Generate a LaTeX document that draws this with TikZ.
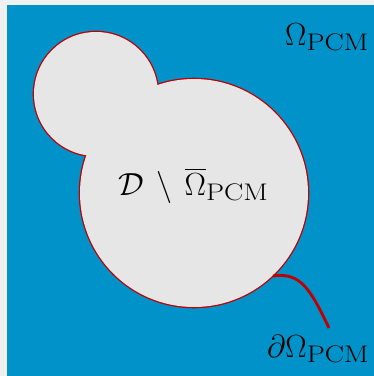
\documentclass[tikz,border=0pt]{standalone}
\usepackage{fix-cm}
\usepackage{amsmath}
\usepackage{graphicx}
\definecolor{pagebg}{HTML}{F0F0F0}
\definecolor{pcmblue}{RGB}{0,146,200}
\definecolor{regiongray}{HTML}{E6E6E6}
\definecolor{bdred}{HTML}{C00000}
\newcommand{\pcmsub}{\text{\fontsize{24bp}{26bp}\selectfont\scalebox{1.2}[1]{PCM}}}
\begin{document}
\begin{tikzpicture}[x=1bp,y=-1bp,
  lbl/.style={inner sep=0pt, anchor=base west, font=\fontsize{32bp}{34bp}\selectfont}]
\fill[pagebg] (0,0) rectangle (374,376);
\useasboundingbox (0,0) rectangle (374,376);
\fill[pcmblue] (7,5) rectangle (374,376);
% region: stroke double width then fill to leave outer outline
\draw[bdred, line width=2.6bp] (194,193) circle[radius=114bp];
\draw[bdred, line width=2.6bp] (96,94) circle[radius=62bp];
\fill[regiongray] (194,193) circle[radius=114bp];
\fill[regiongray] (96,94) circle[radius=62bp];
\coordinate (bstart) at (273,276);
\coordinate (bend) at (329,328);
\draw[bdred, line width=2.8bp] (bstart) .. controls (300,272) and (310,288) .. (bend);
\node[lbl] (omega) at (285,45) {$\Omega_{\pcmsub}$};
\node[lbl] (inner) at (118,195) {$\mathcal{D}\,\setminus\,\overline{\Omega}_{\pcmsub}$};
\node[lbl] (bdry) at (267,357) {$\partial\Omega_{\pcmsub}$};
\end{tikzpicture}
\end{document}
